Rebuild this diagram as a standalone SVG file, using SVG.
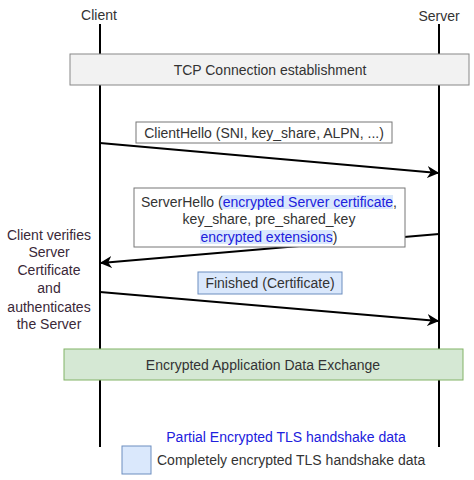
<svg xmlns="http://www.w3.org/2000/svg" width="474" height="480" viewBox="0 0 474 480">
<style>
text{font-family:"Liberation Sans",Arial,sans-serif;font-size:14px;fill:#333}
.c{text-anchor:middle}
.life{stroke:#000;stroke-width:2}
.msg{stroke:#000;stroke-width:2;fill:none;marker-end:url(#ah)}
.lbl{fill:#fff;stroke:#777;stroke-width:1}
.enc{fill:#dae8fc;stroke:#6c8ebf;stroke-width:1}
.blue{fill:#2020dd}
.hl{fill:#dae8fc}
</style>
<defs>
<marker id="ah" viewBox="0 0 10 10" refX="9" refY="5" markerWidth="6" markerHeight="6" orient="auto" markerUnits="strokeWidth">
<path d="M0,0 L10,5 L0,10 L3,5 z" fill="#000"/>
</marker>
</defs>
<rect width="474" height="480" fill="#fff"/>
<g id="client">
<text class="c" x="99" y="20">Client</text>
<line class="life" x1="100" y1="24" x2="100" y2="447"/>
</g>
<g id="server">
<text class="c" x="439" y="21">Server</text>
<line class="life" x1="439" y1="24" x2="439" y2="447"/>
</g>
<g id="tcp">
<rect x="70" y="54" width="399" height="31" fill="#f2f2f2" stroke="#888"/>
<text class="c" x="270" y="75">TCP Connection establishment</text>
</g>
<g id="connectors">
<line class="msg" x1="100" y1="143" x2="438" y2="173"/>
<line class="msg" x1="439" y1="234" x2="101" y2="263"/>
<line class="msg" x1="100" y1="292" x2="438" y2="321"/>
</g>
<g id="clienthello">
<rect class="lbl" x="136" y="122" width="256" height="21"/>
<text class="c" x="264" y="138">ClientHello (SNI, key_share, ALPN, ...)</text>
</g>
<g id="serverhello">
<rect class="lbl" x="134" y="188" width="271" height="59"/>
<rect class="hl" x="221" y="195" width="172" height="14"/>
<rect class="hl" x="200" y="230" width="133" height="14"/>
<text class="c" x="269" y="207">ServerHello (<tspan class="blue">encrypted Server certificate</tspan>,</text>
<text class="c" x="269" y="224">key_share, pre_shared_key</text>
<text class="c" x="269" y="242"><tspan class="blue">encrypted extensions</tspan>)</text>
</g>
<g id="verify">
<text class="c" x="49" y="240" style="fill:#3a2838">Client verifies</text>
<text class="c" x="49" y="257" style="fill:#3a2838">Server</text>
<text class="c" x="49" y="275" style="fill:#3a2838">Certificate</text>
<text class="c" x="49" y="293" style="fill:#3a2838">and</text>
<text class="c" x="49" y="312" style="fill:#3a2838">authenticates</text>
<text class="c" x="49" y="329" style="fill:#3a2838">the Server</text>
</g>
<g id="finished">
<rect class="enc" x="198" y="272" width="144" height="22"/>
<text class="c" x="270" y="288">Finished (Certificate)</text>
</g>
<g id="appdata">
<rect x="64" y="349" width="399" height="31" fill="#d5e8d4" stroke="#82b366"/>
<text class="c" x="263" y="370">Encrypted Application Data Exchange</text>
</g>
<g id="legend">
<text class="c blue" x="286" y="442">Partial Encrypted TLS handshake data</text>
<rect class="enc" x="122" y="446" width="29" height="28"/>
<text x="157" y="465">Completely encrypted TLS handshake data</text>
</g>
</svg>
